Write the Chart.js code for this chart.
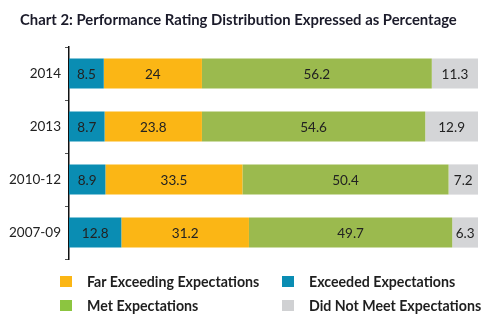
<!DOCTYPE html>
<html>
<head>
<meta charset="utf-8">
<script src="https://cdn.jsdelivr.net/npm/chart.js@4"></script>
<style>
  html, body { margin: 0; padding: 0; background: #fff; }
  #wrap { position: relative; width: 500px; height: 322px; }
  #legend {
    position: absolute; left: 60px; top: 273px;
    display: grid; grid-template-columns: 222px 200px; row-gap: 8px;
    font-family: Lato, sans-serif; font-weight: bold; font-size: 14.2px; color: #1e1e1e;
  }
  .item { display: flex; align-items: center; height: 16px; }
  .box { width: 12px; height: 11px; margin-right: 15px; }
</style>
</head>
<body>
<div id="wrap">
  <canvas id="chart" width="500" height="322"></canvas>
  <div id="legend"></div>
</div>
<script>
const categories = ["2014", "2013", "2010-12", "2007-09"];

const exceeded = [8.5, 8.7, 8.9, 12.8];
const farExceeding = [24, 23.8, 33.5, 31.2];
const met = [56.2, 54.6, 50.4, 49.7];
const didNotMeet = [11.3, 12.9, 7.2, 6.3];

const seriesNames = [
  "Exceeded Expectations",
  "Far Exceeding Expectations",
  "Met Expectations",
  "Did Not Meet Expectations",
];
const barColors = ["#0a8db3", "#fbb615", "#9bba4e", "#d4d5d7"];
const legendColors = ["#0a8db3", "#fbb615", "#8cc540", "#d0d1d3"];
// legend shows the series in a different order than the stack
const legendOrder = [1, 0, 2, 3];

const titleText = "Chart 2: Performance Rating Distribution Expressed as Percentage";

// title drawn by hand so it can sit further right than the axis labels
const chartTitle = {
  id: "chartTitle",
  afterDraw(chart) {
    const ctx = chart.ctx;
    ctx.save();
    ctx.font = "bold 14.85px Lato, sans-serif";
    ctx.fillStyle = "#1b1b2a";
    ctx.textAlign = "left";
    ctx.textBaseline = "middle";
    ctx.fillText(titleText, 20, 20);
    ctx.restore();
  },
};

// writes each value in the middle of its segment
const valueLabels = {
  id: "valueLabels",
  afterDatasetsDraw(chart) {
    const ctx = chart.ctx;
    ctx.save();
    ctx.font = "13.5px Lato, sans-serif";
    ctx.fillStyle = "#222";
    ctx.textAlign = "center";
    ctx.textBaseline = "middle";
    chart.data.datasets.forEach((ds, i) => {
      chart.getDatasetMeta(i).data.forEach((bar, j) => {
        const { x, y, base } = bar.getProps(["x", "y", "base"], true);
        ctx.fillText(String(ds.data[j]), (x + base) / 2, y + 1);
      });
    });
    ctx.restore();
  },
};

const chartConfig = {
  type: "bar",
  data: {
    labels: categories,
    datasets: [exceeded, farExceeding, met, didNotMeet].map((d, i) => ({
      label: seriesNames[i],
      data: d,
      backgroundColor: barColors[i],
      borderWidth: 0,
      categoryPercentage: 1,
      barPercentage: 0.57,
    })),
  },
  options: {
    indexAxis: "y",
    responsive: false,
    animation: false,
    layout: { padding: { left: 4, right: 22, top: 47, bottom: 63 } },
    scales: {
      x: { stacked: true, min: 0, max: 100, display: false },
      y: {
        stacked: true,
        afterFit(scale) {
          scale.width = 65;
        },
        border: { display: true, color: "#111", width: 1.5 },
        grid: {
          offset: true,
          drawOnChartArea: false,
          tickLength: 4,
          color: "#555",
        },
        ticks: {
          padding: 4,
          color: "#222",
          font: { family: "Lato, sans-serif", size: 13.5 },
        },
      },
    },
    plugins: {
      legend: { display: false },
      tooltip: { enabled: false },
      title: { display: false },
    },
  },
  plugins: [valueLabels, chartTitle],
};

const chartInstance = new Chart(document.getElementById("chart"), chartConfig);

const legendEl = document.getElementById("legend");
legendOrder.forEach((i) => {
  const ds = chartInstance.data.datasets[i];
  legendEl.insertAdjacentHTML(
    "beforeend",
    `<div class="item"><span class="box" style="background:${legendColors[i]}"></span>${ds.label}</div>`,
  );
});
</script>
</body>
</html>
